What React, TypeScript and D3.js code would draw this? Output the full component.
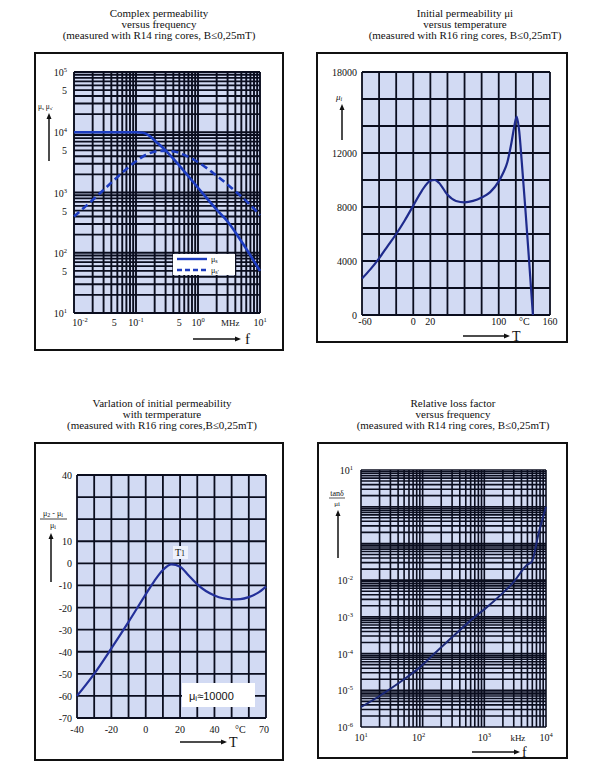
import React from 'react';
import * as d3 from 'd3';

// ---------- Data ----------
// Panel 1: complex permeability vs frequency (MHz)
const P1_FREQ_S = [0.01, 0.05, 0.1, 0.13, 0.17, 0.2, 0.3, 0.5, 1, 2, 3, 5, 10];
const P1_MU_S = [10000, 10000, 10000, 9800, 8500, 7300, 5000, 2800, 1200, 520, 330, 155, 50];
const P1_FREQ_S2 = [0.01, 0.02, 0.05, 0.1, 0.15, 0.25, 0.4, 0.6, 1, 2, 4, 7, 10];
const P1_MU_S2 = [400, 750, 1800, 3300, 4300, 4900, 4800, 4200, 3200, 1900, 1050, 620, 420];
const P1_Y_LABELS = [
  { v: 1e5, t: '10', s: '5' }, { v: 5e4, t: '5', s: '' }, { v: 1e4, t: '10', s: '4' },
  { v: 5e3, t: '5', s: '' }, { v: 1e3, t: '10', s: '3' }, { v: 500, t: '5', s: '' },
  { v: 100, t: '10', s: '2' }, { v: 50, t: '5', s: '' }, { v: 10, t: '10', s: '1' },
];
const P1_X_LABELS = [
  { v: 0.01, t: '10', s: '-2', dx: 6 }, { v: 0.05, t: '5', s: '', dx: -3 }, { v: 0.1, t: '10', s: '-1', dx: 0 },
  { v: 0.5, t: '5', s: '', dx: 0 }, { v: 1, t: '10', s: '0', dx: 0 }, { v: 3.3, t: 'MHz', s: '', dx: 0 },
  { v: 10, t: '10', s: '1', dx: 0 },
];

// Panel 2: initial permeability vs temperature
const P2_T = [-60, -50, -40, -30, -20, -10, 0, 10, 20, 25, 30, 40, 50, 60, 70, 80, 90, 100, 105, 110, 115, 118, 121, 124, 127, 131, 135, 140];
const P2_MU = [2700, 3400, 4200, 5100, 6000, 7000, 8100, 9200, 9950, 10000, 9800, 8900, 8450, 8350, 8450, 8700, 9100, 9900, 10500, 11300, 12800, 13900, 14700, 13600, 11300, 8000, 4500, 0];
const P2_Y_LABELS = [0, 4000, 8000, 12000, 18000];
const P2_X_LABELS = [
  { v: -60, t: '-60' }, { v: 0, t: '0' }, { v: 20, t: '20' }, { v: 100, t: '100' },
  { v: 130, t: '°C' }, { v: 160, t: '160' },
];

// Panel 3: variation of initial permeability with temperature
const P3_T = [-40, -30, -20, -10, 0, 5, 10, 15, 20, 25, 30, 35, 40, 45, 50, 55, 60, 65, 70];
const P3_V = [-60, -50, -38.5, -26.5, -14, -8, -3, -0.5, -1.5, -5.5, -9.5, -12.5, -14.5, -15.8, -16.3, -16.2, -15.3, -13.5, -10.5];
const P3_Y_LABELS = [40, 10, 0, -10, -20, -30, -40, -50, -60, -70];
const P3_X_LABELS = [
  { v: -40, t: '-40' }, { v: -20, t: '-20' }, { v: 0, t: '0' }, { v: 20, t: '20' },
  { v: 40, t: '40' }, { v: 55, t: '°C' }, { v: 70, t: '70' },
];

// Panel 4: relative loss factor vs frequency (kHz)
const P4_F = [10, 20, 30, 50, 80, 150, 300, 700, 1000, 2000, 3000, 4900, 5900, 7600, 10000];
const P4_V = [3.5e-6, 7e-6, 1.1e-5, 2e-5, 3.6e-5, 9.5e-5, 2.8e-4, 1e-3, 1.6e-3, 4.5e-3, 9e-3, 2.6e-2, 3.2e-2, 0.19, 1.0];
const P4_Y_LABELS = [
  { v: 10, s: '1' }, { v: 1e-2, s: '-2' }, { v: 1e-3, s: '-3' }, { v: 1e-4, s: '-4' },
  { v: 1e-5, s: '-5' }, { v: 1e-6, s: '-6' },
];
const P4_X_LABELS = [
  { v: 10, t: '10', s: '1' }, { v: 100, t: '10', s: '2' }, { v: 1000, t: '10', s: '3' },
  { v: 3500, t: 'kHz', s: '' }, { v: 10000, t: '10', s: '4' },
];

// ---------- Helpers ----------
const SERIF = 'Liberation Serif, DejaVu Serif, serif';
const GRID = '#0a0d1e';
const BG = '#d2daf3';

function logGridValues(minExp: number, maxExp: number) {
  const out: number[] = [];
  for (let e = minExp; e < maxExp; e++) {
    for (let k = 1; k <= 9; k++) out.push(k * Math.pow(10, e));
  }
  out.push(Math.pow(10, maxExp));
  return out;
}

function Title({ cx, y, lines }: { cx: number; y: number; lines: string[] }) {
  return (
    <g>
      {lines.map((l, i) => (
        <text key={i} x={cx} y={y + i * 11} textAnchor="middle" fontFamily={SERIF} fontSize={11} fill="#111">
          {l}
        </text>
      ))}
    </g>
  );
}

function Arrow({ x1, y1, x2, y2 }: { x1: number; y1: number; x2: number; y2: number }) {
  const ang = Math.atan2(y2 - y1, x2 - x1);
  const L = 6, W = 2.5;
  const bx = x2 - L * Math.cos(ang), by = y2 - L * Math.sin(ang);
  const px = -Math.sin(ang) * W, py = Math.cos(ang) * W;
  return (
    <g>
      <line x1={x1} y1={y1} x2={bx} y2={by} stroke="#111" strokeWidth={1.5} />
      <path d={`M${x2},${y2}L${bx + px},${by + py}L${bx - px},${by - py}Z`} fill="#111" />
    </g>
  );
}

function Pow({ x, y, t, s, anchor, size = 10 }: { x: number; y: number; t: string; s: string; anchor: string; size?: number }) {
  return (
    <text x={x} y={y} textAnchor={anchor as any} fontFamily={SERIF} fontSize={size} fill="#111">
      {t}
      {s ? (
        <tspan dy={-4} fontSize={size * 0.65}>{s}</tspan>
      ) : null}
    </text>
  );
}

// ---------- Panel 1 ----------
function Panel1() {
  const L = 74, R = 260, T = 72, B = 313;
  const x = d3.scaleLog().domain([0.01, 10]).range([L, R]);
  const y = d3.scaleLog().domain([10, 1e5]).range([B, T]);
  const xs = logGridValues(-2, 1);
  const ys = logGridValues(1, 5);
  const line = d3.line<[number, number]>().x(d => x(d[0])).y(d => y(d[1])).curve(d3.curveMonotoneX);
  const s1 = P1_FREQ_S.map((f, i) => [f, P1_MU_S[i]] as [number, number]);
  const s2 = P1_FREQ_S2.map((f, i) => [f, P1_MU_S2[i]] as [number, number]);
  return (
    <g>
      <Title cx={159} y={17} lines={['Complex permeability', 'versus frequency', '(measured with R14 ring cores, B≤0,25mT)']} />
      <rect x={35} y={53} width={248} height={297} fill="#fff" stroke="#111" strokeWidth={2} />
      <rect x={L} y={T} width={R - L} height={B - T} fill={BG} />
      {xs.map((v, i) => (
        <line key={'x' + i} x1={x(v)} x2={x(v)} y1={T} y2={B} stroke={GRID} strokeWidth={1.9} />
      ))}
      {ys.map((v, i) => (
        <line key={'y' + i} x1={L} x2={R} y1={y(v)} y2={y(v)} stroke={GRID} strokeWidth={1.9} />
      ))}
      <path d={line(s2) || ''} fill="none" stroke="#1d3cc0" strokeWidth={2.6} strokeDasharray="7,4" />
      <path d={line(s1) || ''} fill="none" stroke="#1d3cc0" strokeWidth={2.6} />
      {/* legend */}
      <rect x={173} y={254} width={62} height={21} fill="#fff" />
      <line x1={177} x2={207} y1={259} y2={259} stroke="#1d3cc0" strokeWidth={2.4} />
      <line x1={177} x2={207} y1={270} y2={270} stroke="#1d3cc0" strokeWidth={2.4} strokeDasharray="5,3" />
      <text x={211} y={262} fontFamily={SERIF} fontSize={8} fill="#111">μ<tspan fontSize={6} dy={1}>s</tspan></text>
      <text x={211} y={273} fontFamily={SERIF} fontSize={8} fill="#111">μ<tspan fontSize={6} dy={1}>s'</tspan></text>
      {/* y labels */}
      {P1_Y_LABELS.map((d, i) => (
        <Pow key={i} x={67} y={y(d.v) + 4} t={d.t} s={d.s} anchor="end" />
      ))}
      {P1_X_LABELS.map((d, i) => (
        <Pow key={i} x={x(d.v) + d.dx} y={326} t={d.t} s={d.s} anchor="middle" size={d.t === 'MHz' ? 9 : 10} />
      ))}
      <text x={38} y={109} fontFamily={SERIF} fontSize={7.5} fill="#111">μ<tspan fontSize={5} dy={1}>s</tspan><tspan dy={-1}> μ</tspan><tspan fontSize={5} dy={1}>s'</tspan></text>
      <Arrow x1={49} y1={161} x2={49} y2={113} />
      <Arrow x1={193} y1={339} x2={241} y2={339} />
      <text x={245} y={344} fontFamily={SERIF} fontSize={15} fill="#111">f</text>
    </g>
  );
}

// ---------- Panel 2 ----------
function Panel2() {
  const L = 362, R = 550, T = 72, B = 315;
  const x = d3.scaleLinear().domain([-60, 160]).range([L, R]);
  const y = d3.scaleLinear().domain([0, 18000]).range([B, T]);
  const xs = d3.range(-60, 161, 20);
  const ys = d3.range(0, 18001, 2000);
  const line = d3.line<[number, number]>().x(d => x(d[0])).y(d => y(d[1])).curve(d3.curveMonotoneX);
  const pts = P2_T.map((t, i) => [t, P2_MU[i]] as [number, number]);
  return (
    <g>
      <Title cx={465} y={17} lines={['Initial permeability μi', 'versus temperature', '(measured with R16 ring cores, B≤0,25mT)']} />
      <rect x={317} y={53} width={250} height={289} fill="#fff" stroke="#111" strokeWidth={2} />
      <rect x={L} y={T} width={R - L} height={B - T} fill={BG} />
      {xs.map((v, i) => (
        <line key={'x' + i} x1={x(v)} x2={x(v)} y1={T} y2={B} stroke={GRID} strokeWidth={1.8} />
      ))}
      {ys.map((v, i) => (
        <line key={'y' + i} x1={L} x2={R} y1={y(v)} y2={y(v)} stroke={GRID} strokeWidth={1.8} />
      ))}
      <path d={line(pts) || ''} fill="none" stroke="#1e2a8c" strokeWidth={2.2} />
      {P2_Y_LABELS.map((v, i) => (
        <text key={i} x={357} y={y(v) + 4} textAnchor="end" fontFamily={SERIF} fontSize={10} fill="#111">{v}</text>
      ))}
      {P2_X_LABELS.map((d, i) => (
        <text key={i} x={x(d.v) + (i === 0 ? 3 : 0)} y={325} textAnchor="middle" fontFamily={SERIF} fontSize={10} fill="#111">{d.t}</text>
      ))}
      <text x={336} y={100} fontFamily={SERIF} fontStyle="italic" fontSize={9} fill="#111">μ<tspan fontSize={6} dy={1}>i</tspan></text>
      <Arrow x1={342} y1={140} x2={342} y2={104} />
      <Arrow x1={463} y1={336} x2={510} y2={336} />
      <text x={512} y={341} fontFamily={SERIF} fontSize={14} fill="#111">T</text>
    </g>
  );
}

// ---------- Panel 3 ----------
function Panel3() {
  const L = 77, R = 266, T = 475, B = 718;
  const x = d3.scaleLinear().domain([-40, 70]).range([L, R]);
  const y = d3.scaleLinear().domain([-70, 40]).range([B, T]);
  const xs = d3.range(-40, 71, 10);
  const ys = d3.range(-70, 41, 10);
  const line = d3.line<[number, number]>().x(d => x(d[0])).y(d => y(d[1])).curve(d3.curveMonotoneX);
  const pts = P3_T.map((t, i) => [t, P3_V[i]] as [number, number]);
  return (
    <g>
      <Title cx={162} y={407} lines={['Varlation of initial permeability', 'with termperature', '(measured with R16 ring cores,B≤0,25mT)']} />
      <rect x={35} y={443} width={248} height={317} fill="#fff" stroke="#111" strokeWidth={2} />
      <rect x={L} y={T} width={R - L} height={B - T} fill={BG} />
      {xs.map((v, i) => (
        <line key={'x' + i} x1={x(v)} x2={x(v)} y1={T} y2={B} stroke={GRID} strokeWidth={1.8} />
      ))}
      {ys.map((v, i) => (
        <line key={'y' + i} x1={L} x2={R} y1={y(v)} y2={y(v)} stroke={GRID} strokeWidth={1.8} />
      ))}
      <path d={line(pts) || ''} fill="none" stroke="#23309a" strokeWidth={2.2} />
      <rect x={173} y={546} width={15} height={13} fill="#eef1fb" />
      <text x={180} y={556} textAnchor="middle" fontFamily={SERIF} fontSize={10} fill="#111">T<tspan fontSize={8}>1</tspan></text>
      <rect x={182} y={683} width={73} height={24} fill="#fff" />
      <text x={189} y={700} fontFamily="Liberation Sans, Arial, sans-serif" fontSize={11} fill="#111">μ<tspan fontSize={8} dy={1}>i</tspan><tspan dy={-1}>≈10000</tspan></text>
      {P3_Y_LABELS.map((v, i) => (
        <text key={i} x={72} y={y(v) + 4} textAnchor="end" fontFamily={SERIF} fontSize={10} fill="#111">{v}</text>
      ))}
      {P3_X_LABELS.map((d, i) => (
        <text key={i} x={x(d.v) + (d.v === 70 ? -2 : 0)} y={733} textAnchor="middle" fontFamily={SERIF} fontSize={10} fill="#111">{d.t}</text>
      ))}
      <text x={53} y={516} textAnchor="middle" fontFamily={SERIF} fontSize={8} fill="#111">μ<tspan fontSize={6} dy={1}>2</tspan><tspan dy={-1}> - μ</tspan><tspan fontSize={6} dy={1}>i</tspan></text>
      <line x1={40} x2={67} y1={519} y2={519} stroke="#111" strokeWidth={0.8} />
      <text x={53} y={528} textAnchor="middle" fontFamily={SERIF} fontSize={8} fill="#111">μ<tspan fontSize={6} dy={1}>i</tspan></text>
      <Arrow x1={51} y1={582} x2={51} y2={533} />
      <Arrow x1={180} y1={742} x2={227} y2={742} />
      <text x={229} y={747} fontFamily={SERIF} fontSize={14} fill="#111">T</text>
    </g>
  );
}

// ---------- Panel 4 ----------
function Panel4() {
  const L = 361, R = 546, T = 470, B = 727;
  const x = d3.scaleLog().domain([10, 1e4]).range([L, R]);
  const y = d3.scaleLog().domain([1e-6, 10]).range([B, T]);
  const xs = logGridValues(1, 4);
  const ys = logGridValues(-6, 1);
  const line = d3.line<[number, number]>().x(d => x(d[0])).y(d => y(d[1])).curve(d3.curveMonotoneX);
  const pts = P4_F.map((f, i) => [f, P4_V[i]] as [number, number]);
  return (
    <g>
      <Title cx={453} y={407} lines={['Relative loss factor', 'versus frequency', '(measured with R14 ring cores, B≤0,25mT)']} />
      <rect x={318} y={443} width={249} height={315} fill="#fff" stroke="#111" strokeWidth={2} />
      <rect x={L} y={T} width={R - L} height={B - T} fill={BG} />
      {xs.map((v, i) => (
        <line key={'x' + i} x1={x(v)} x2={x(v)} y1={T} y2={B} stroke={GRID} strokeWidth={1.6} />
      ))}
      {ys.map((v, i) => (
        <line key={'y' + i} x1={L} x2={R} y1={y(v)} y2={y(v)} stroke={GRID} strokeWidth={1.6} />
      ))}
      <path d={line(pts) || ''} fill="none" stroke="#1b2878" strokeWidth={2} />
      {P4_Y_LABELS.map((d, i) => (
        <Pow key={i} x={353} y={y(d.v) + 4} t="10" s={d.s} anchor="end" />
      ))}
      {P4_X_LABELS.map((d, i) => (
        <Pow key={i} x={x(d.v) + (d.v === 100 ? -4 : 0)} y={741} t={d.t} s={d.s} anchor="middle" size={d.s ? 10 : 9} />
      ))}
      <text x={337} y={496} textAnchor="middle" fontFamily={SERIF} fontSize={8} fill="#111">tanδ</text>
      <line x1={329} x2={345} y1={498} y2={498} stroke="#111" strokeWidth={0.7} />
      <text x={337} y={506} textAnchor="middle" fontFamily={SERIF} fontSize={7} fill="#111">μi</text>
      <Arrow x1={338} y1={558} x2={338} y2={510} />
      <Arrow x1={472} y1={752} x2={520} y2={752} />
      <text x={522} y={757} fontFamily={SERIF} fontSize={14} fill="#111">f</text>
    </g>
  );
}

export default function App() {
  return (
    <svg width={600} height={778} viewBox="0 0 600 778" style={{ position: 'absolute', left: 0, top: 0, background: '#fff' }}>
      <rect x={0} y={0} width={600} height={778} fill="#fff" />
      <Panel1 />
      <Panel2 />
      <Panel3 />
      <Panel4 />
    </svg>
  );
}
